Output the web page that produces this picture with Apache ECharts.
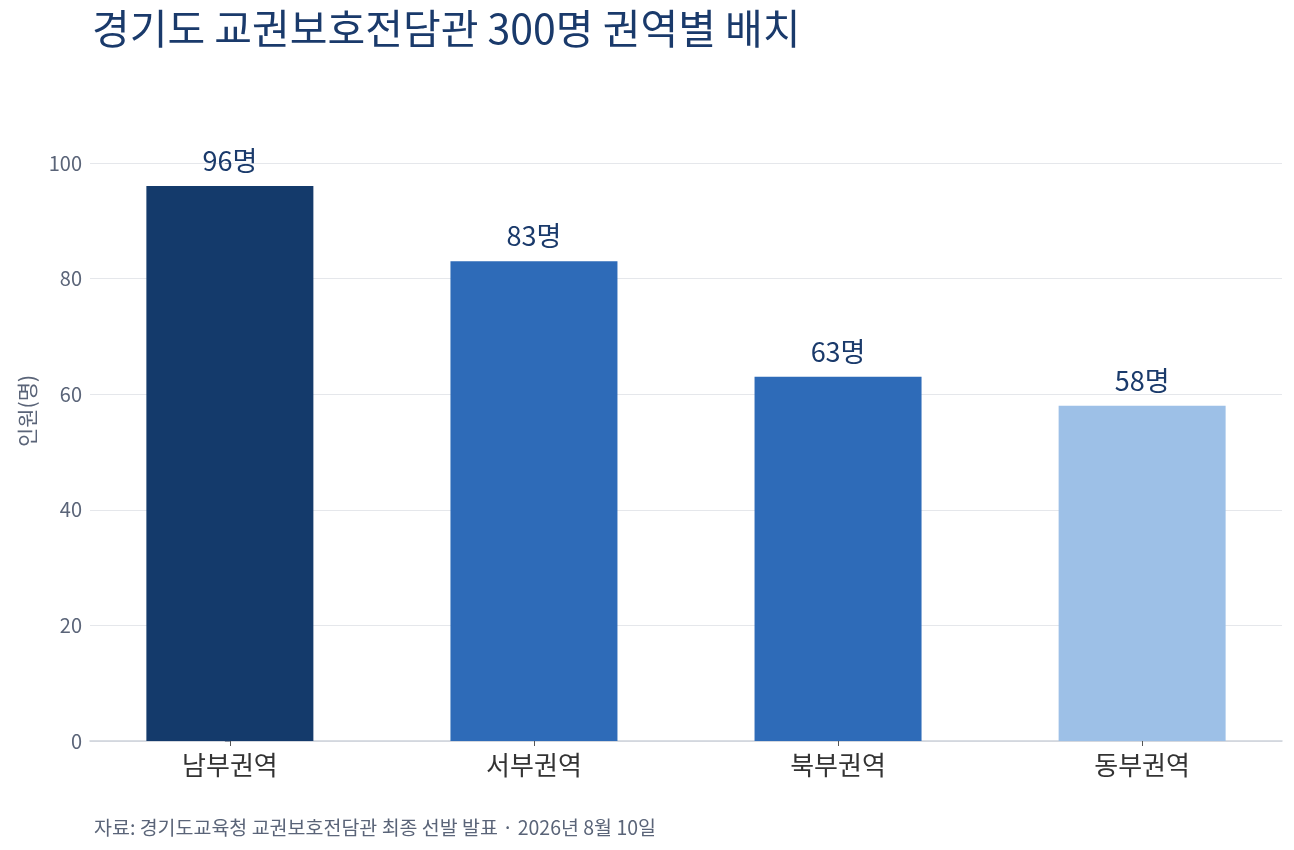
<!DOCTYPE html>
<html>
<head>
<meta charset="utf-8">
<script src="https://cdn.jsdelivr.net/npm/echarts@6/dist/echarts.min.js"></script>
<style>
  html, body { margin: 0; padding: 0; background: #fff; }
  #chart { width: 1294px; height: 850px; }
</style>
</head>
<body>
<div id="chart"></div>
<script>
// 권역별 배치 인원
var regions = ['남부권역', '서부권역', '북부권역', '동부권역'];
var counts = [96, 83, 63, 58];
var barColors = ['#143A6B', '#2E6BB8', '#2E6BB8', '#9DC0E7'];
var yTicks = [0, 20, 40, 60, 80, 100];

var FONT = '"Noto Sans CJK KR", "Noto Sans", sans-serif';

var chart = echarts.init(document.getElementById('chart'));

var barData = regions.map(function (r, i) {
  return {
    value: [i, counts[i]],
    itemStyle: { color: barColors[i] }
  };
});

chart.setOption({
  animation: false,
  textStyle: { fontFamily: FONT },
  title: [{
    text: '경기도 교권보호전담관 300명 권역별 배치',
    left: 87,
    top: 3,
    textStyle: { fontSize: 41, fontWeight: 'normal', color: '#1A3A6B', fontFamily: FONT }
  }, {
    text: '자료: 경기도교육청 교권보호전담관 최종 선발 발표 · 2026년 8월 10일',
    left: 89,
    top: 813,
    textStyle: { fontSize: 19.5, fontWeight: 'normal', color: '#5A6478', fontFamily: FONT }
  }],
  grid: { left: 90, right: 12, top: 163, bottom: 109, containLabel: false },
  xAxis: {
    type: 'value',
    min: -0.46,
    max: 3.46,
    splitLine: { show: false },
    axisLine: { show: true, lineStyle: { color: '#CDD2DA', width: 1.5 } },
    axisTick: {
      show: true,
      customValues: [0, 1, 2, 3],
      length: 5,
      lineStyle: { color: '#555' }
    },
    axisLabel: {
      customValues: [0, 1, 2, 3],
      formatter: function (v) { return regions[Math.round(v)]; },
      fontSize: 26,
      color: '#333',
      margin: 11,
      fontFamily: FONT
    }
  },
  yAxis: {
    type: 'value',
    min: 0,
    max: 100,
    interval: 20,
    name: '인원(명)',
    nameLocation: 'middle',
    nameGap: 52,
    nameRotate: 90,
    nameTextStyle: { fontSize: 21, color: '#5A6478', fontFamily: FONT, padding: [0, 0, 0, 82] },
    axisLine: { show: false },
    axisTick: { show: true, length: 5, lineStyle: { color: '#8A93A3' } },
    axisLabel: { fontSize: 20, color: '#5A6478', margin: 8, fontFamily: FONT },
    splitLine: { show: true, lineStyle: { color: '#E5E7EB', width: 1.2 } }
  },
  series: [{
    type: 'bar',
    data: barData,
    barWidth: 167,
    label: {
      show: true,
      position: 'top',
      distance: 12,
      formatter: function (p) { return p.value[1] + '명'; },
      fontSize: 27,
      color: '#1A3A6B',
      fontFamily: FONT
    }
  }]
});
</script>
</body>
</html>
